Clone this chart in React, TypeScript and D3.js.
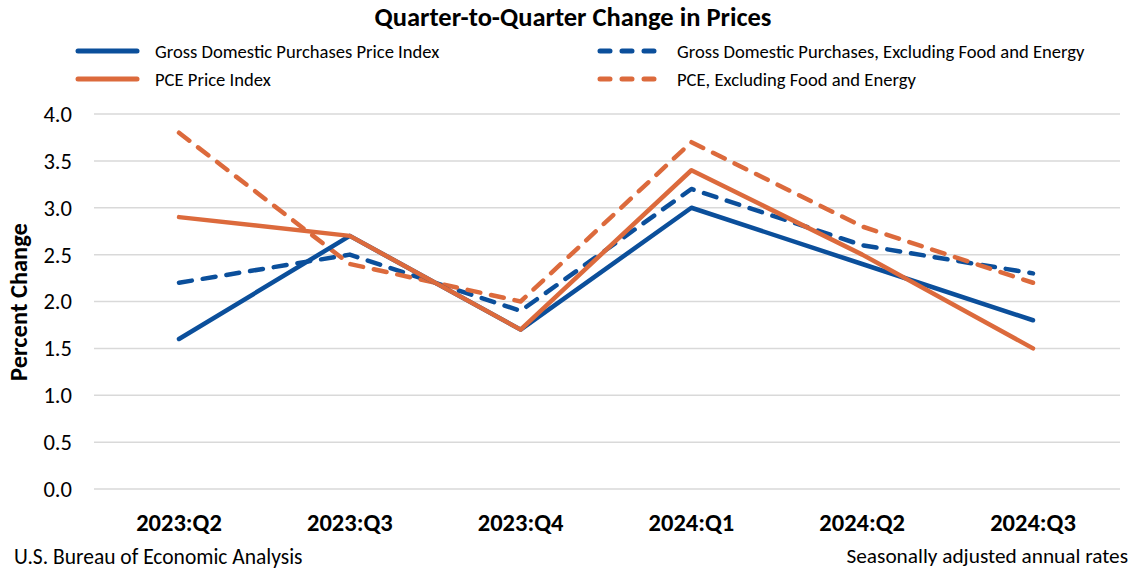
import React from "react";
import * as d3 from "d3";

const categories = ["2023:Q2", "2023:Q3", "2023:Q4", "2024:Q1", "2024:Q2", "2024:Q3"];
const gdpPrice = [1.6, 2.7, 1.7, 3.0, 2.4, 1.8];
const gdpCore = [2.2, 2.5, 1.9, 3.2, 2.6, 2.3];
const pcePrice = [2.9, 2.7, 1.7, 3.4, 2.5, 1.5];
const pceCore = [3.8, 2.4, 2.0, 3.7, 2.8, 2.2];
const yTicks = [0, 0.5, 1, 1.5, 2, 2.5, 3, 3.5, 4];

const BLUE = "#0b4f9b";
const ORANGE = "#dc6a3c";
const FONT = "Carlito, Calibri, 'Liberation Sans Narrow', 'Open Sans', sans-serif";

const series = [
  { name: "Gross Domestic Purchases Price Index", values: gdpPrice, color: BLUE, dashed: false },
  { name: "PCE Price Index", values: pcePrice, color: ORANGE, dashed: false },
  { name: "Gross Domestic Purchases, Excluding Food and Energy", values: gdpCore, color: BLUE, dashed: true },
  { name: "PCE, Excluding Food and Energy", values: pceCore, color: ORANGE, dashed: true },
];

export default function App() {
  const W = 1134, H = 569;
  const plotL = 94, plotR = 1120;
  const x = d3.scalePoint<string>().domain(categories).range([179, 1033]);
  const y = d3.scaleLinear().domain([0, 4]).range([489, 114]);
  const line = d3.line<number>().x((_, i) => x(categories[i])!).y((d) => y(d));
  const drawOrder = [series[2], series[3], series[0], series[1]];
  const legend = [
    { s: series[0], x: 78, y: 51 },
    { s: series[2], x: 600, y: 51 },
    { s: series[1], x: 78, y: 79 },
    { s: series[3], x: 600, y: 79 },
  ];
  return (
    <svg width={W} height={H} style={{ position: "absolute", left: 0, top: 0, background: "#fff" }} fontFamily={FONT}>
      <rect width={W} height={H} fill="#fff" />
      <text x={573} y={26} textAnchor="middle" fontSize={26.5} fontWeight="bold" fill="#000">
        Quarter-to-Quarter Change in Prices
      </text>
      {legend.map((l, i) => (
        <g key={i}>
          <line x1={l.x} x2={l.x + 59} y1={l.y} y2={l.y} stroke={l.s.color} strokeWidth={5}
            strokeLinecap="round" strokeDasharray={l.s.dashed ? "10 12" : undefined} />
          <text x={l.x + 77} y={l.y} dy="0.35em" fontSize={18.6} fill="#000">{l.s.name}</text>
        </g>
      ))}
      {yTicks.map((t) => (
        <g key={t}>
          <line x1={plotL} x2={plotR} y1={y(t)} y2={y(t)} stroke="#d9d9d9" strokeWidth={1.5} />
          <text x={72} y={y(t)} dy="0.35em" textAnchor="end" fontSize={22.6} fill="#000">{t.toFixed(1)}</text>
        </g>
      ))}
      <text transform={`translate(27,302) rotate(-90)`} textAnchor="middle" fontSize={24.5} fontWeight="bold" fill="#000">
        Percent Change
      </text>
      {categories.map((c) => (
        <text key={c} x={x(c)!} y={522} dy="0.35em" textAnchor="middle" fontSize={24.5} fontWeight="bold" fill="#000">{c}</text>
      ))}
      {drawOrder.map((s, i) => (
        <path key={i} d={line(s.values)!} fill="none" stroke={s.color} strokeWidth={4.5}
          strokeLinecap="round" strokeLinejoin="round" strokeDasharray={s.dashed ? "13 11" : undefined} />
      ))}
      <text x={14} y={556} dy="0.35em" fontSize={21.5} fill="#000">U.S. Bureau of Economic Analysis</text>
      <text x={1128} y={556} dy="0.35em" textAnchor="end" fontSize={21.3} fill="#000">Seasonally adjusted annual rates</text>
    </svg>
  );
}
